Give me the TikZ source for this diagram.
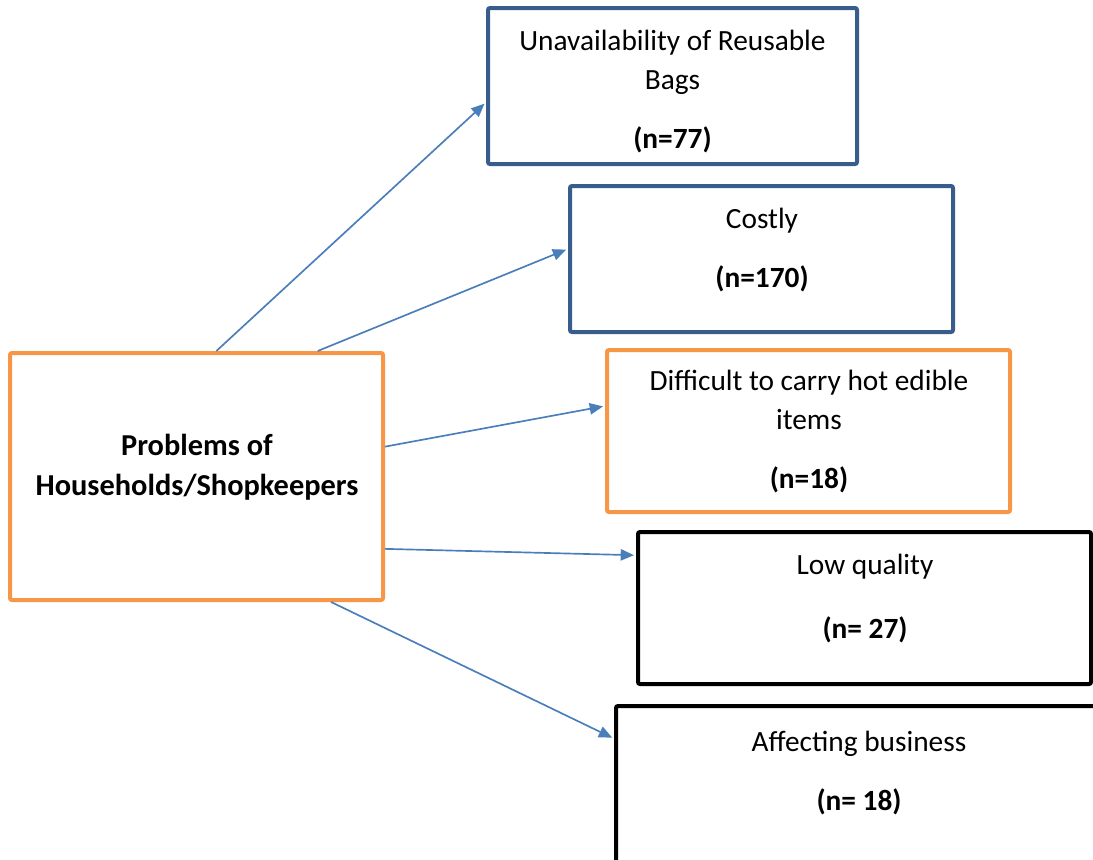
\documentclass[tikz,border=0pt]{standalone}
\usepackage{fontspec}
\setmainfont{Carlito}
\usetikzlibrary{arrows.meta, positioning}
\definecolor{orangebox}{RGB}{247,150,70}
\definecolor{bluebox}{RGB}{56,93,138}
\definecolor{arrowblue}{RGB}{74,126,187}

\begin{document}
\begin{tikzpicture}[x=0.75pt, y=-0.75pt,
    box/.style={rectangle, line width=3pt, rounded corners=1.5pt, inner sep=0pt},
    txt/.style={align=center, font=\fontsize{22}{29.25}\selectfont},
    link/.style={-{Triangle[length=10pt,width=8.5pt]}, arrowblue, line width=1.25pt, shorten >=1.5pt}]
  \clip (0,0) rectangle (1093,860);
  % boxes
  \node[box, draw=orangebox, minimum width=279.75pt, minimum height=185.25pt] (prob) at (196.5,476.5) {};
  \node[box, draw=bluebox, minimum width=276.75pt, minimum height=117pt] (bags) at (672.5,86) {};
  \node[box, draw=bluebox, minimum width=287.25pt, minimum height=109.5pt] (cost) at (761.5,259) {};
  \node[box, draw=orangebox, minimum width=302.25pt, minimum height=121.5pt] (hot) at (808.5,431) {};
  \node[box, draw=black, minimum width=339.75pt, minimum height=114pt] (qual) at (864.5,608) {};
  \node[box, draw=black, minimum width=363pt, minimum height=120pt] (biz) at (858,786) {};
  % texts
  \node[txt, font=\fontsize{22.8}{30}\selectfont\bfseries] (prob-t) at (197,467) {Problems of\\Households/Shopkeepers};
  \node[txt] (bags-t) at (672.5,92) {Unavailability of Reusable\\Bags\\[15pt]\textbf{(n=77)}};
  \node[txt] (cost-t) at (762,250) {Costly\\[15pt]\textbf{(n=170)}};
  \node[txt] (hot-t) at (809,432) {Difficult to carry hot edible\\items\\[15pt]\textbf{(n=18)}};
  \node[txt] (qual-t) at (865,599) {Low quality\\[18.75pt]\textbf{(n= 27)}};
  \node[txt] (biz-t) at (859,773) {Affecting business\\[15pt]\textbf{(n= 18)}};
  % connectors
  \draw[link] (prob.81) -- (bags.185);
  \draw[link] (prob.46) -- (cost.177);
  \draw[link] (prob.9) -- (hot.173);
  \draw[link] (prob.-21) -- (qual.167);
  \draw[link] (prob.-43) -- (biz.169);
\end{tikzpicture}
\end{document}
